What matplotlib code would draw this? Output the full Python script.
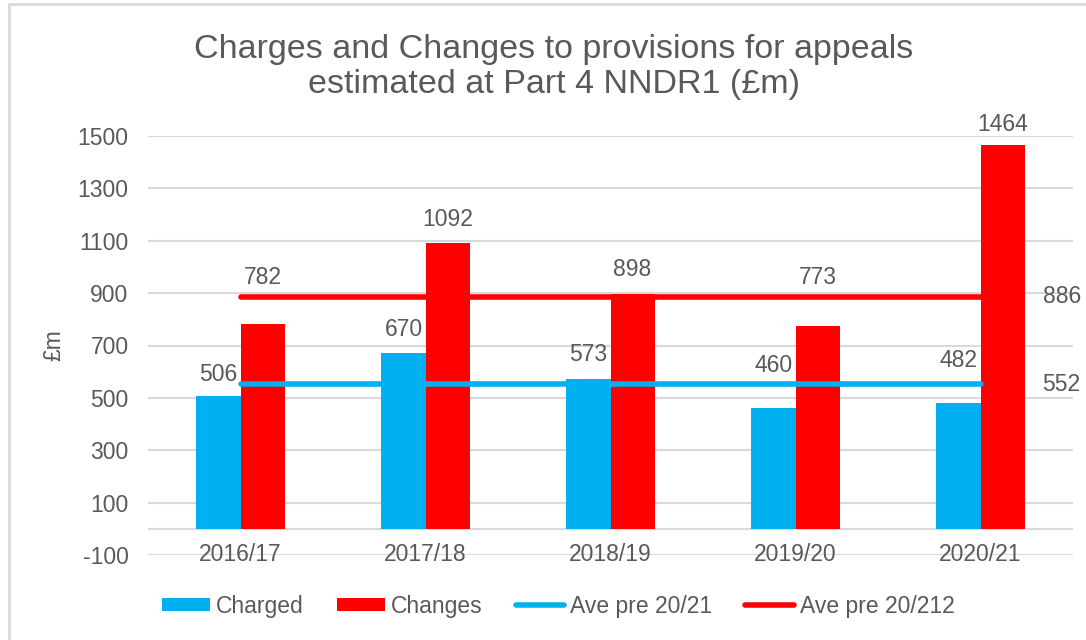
import matplotlib
matplotlib.use("Agg")
import matplotlib.pyplot as plt
from matplotlib.patches import Patch, Rectangle
from matplotlib.lines import Line2D

plt.rcParams['font.family'] = ['Liberation Sans', 'DejaVu Sans']

# ---- data ----
years = ["2016/17", "2017/18", "2018/19", "2019/20", "2020/21"]
charged = [506, 670, 573, 460, 482]
changes = [782, 1092, 898, 773, 1464]
ave_charged = 552      # Ave pre 20/21
ave_changes = 886      # Ave pre 20/212
yticks = [-100, 100, 300, 500, 700, 900, 1100, 1300, 1500]

# ---- style ----
BLUE = "#00B0F0"
RED = "#FF0000"
TXT = "#595959"
GRID = "#D9D9D9"
FS = 16.5
# label lift above bar tops (pixels), as placed in the original
lift_charged = [22, 24, 24, 43, 42]
lift_changes = [47, 23, 24, 49, 21]

W, H = 1086, 640
fig = plt.figure(figsize=(W / 100, H / 100), dpi=100)
px = 72 / 100  # points per pixel

ax = fig.add_axes([148 / W, 1 - 555 / H, (1073 - 148) / W, (555 - 136) / H])

x = list(range(len(years)))
bw = 0.238
ax.bar([i - bw / 2 for i in x], charged, width=bw, color=BLUE, zorder=2)
ax.bar([i + bw / 2 for i in x], changes, width=bw, color=RED, zorder=2)

ax.plot([x[0], x[-1]], [ave_charged, ave_charged], color=BLUE, lw=4, solid_capstyle='round', zorder=3)
ax.plot([x[0], x[-1]], [ave_changes, ave_changes], color=RED, lw=4, solid_capstyle='round', zorder=3)

ax.set_xlim(-0.5, len(years) - 0.5)
ax.set_ylim(-100, 1500)
ax.set_yticks(yticks)
ax.set_yticklabels([str(v) for v in yticks])
for v in yticks:
    ax.axhline(v, color=GRID, lw=1.5, zorder=0)
ax.axhline(0, color=GRID, lw=1.5, zorder=1)
ax.tick_params(axis='y', length=0, pad=14, labelsize=FS, labelcolor=TXT)
ax.set_xticks([])
for s in ax.spines.values():
    s.set_visible(False)

# category labels below the zero line
for i, lab in enumerate(years):
    ax.annotate(lab, xy=(i, 0), xytext=(0, -26 * px), textcoords='offset points',
                ha='center', va='center', fontsize=FS, color=TXT)

# data labels
for i in x:
    ax.annotate(str(charged[i]), xy=(i - bw / 2, charged[i]), xytext=(0, lift_charged[i] * px),
                textcoords='offset points', ha='center', va='center', fontsize=FS, color=TXT, zorder=5)
    ax.annotate(str(changes[i]), xy=(i + bw / 2, changes[i]), xytext=(0, lift_changes[i] * px),
                textcoords='offset points', ha='center', va='center', fontsize=FS, color=TXT, zorder=5)

ax.annotate(str(ave_changes), xy=(x[-1], ave_changes), xytext=(62 * px, 0), textcoords='offset points',
            ha='left', va='center', fontsize=FS, color=TXT, annotation_clip=False)
ax.annotate(str(ave_charged), xy=(x[-1], ave_charged), xytext=(62 * px, 0), textcoords='offset points',
            ha='left', va='center', fontsize=FS, color=TXT, annotation_clip=False)

ax.set_ylabel("£m", fontsize=FS, color=TXT, labelpad=8.5)

fig.text(554 / W, 1 - 67 / H, "Charges and Changes to provisions for appeals\nestimated at Part 4 NNDR1 (£m)",
         ha='center', va='center', fontsize=24.5, color=TXT, linespacing=1.2)

handles = [Patch(facecolor=BLUE), Patch(facecolor=RED),
           Line2D([0], [0], color=BLUE, lw=4, solid_capstyle='round'),
           Line2D([0], [0], color=RED, lw=4, solid_capstyle='round')]
labels = ["Charged", "Changes", "Ave pre 20/21", "Ave pre 20/212"]
leg = fig.legend(handles, labels, loc='center left', bbox_to_anchor=(162 / W, 1 - 606 / H), ncol=4,
                 frameon=False, fontsize=FS, handlelength=2.1, handleheight=0.48, handletextpad=0.26,
                 columnspacing=1.45, borderpad=0, borderaxespad=0)
for t in leg.get_texts():
    t.set_color(TXT)

# chart-area border
fig.patches.append(Rectangle((9 / W, -0.1), 1.2, 1.1 - 4 / H, transform=fig.transFigure,
                             fill=False, edgecolor=GRID, lw=2))

fig.savefig("out.png", dpi=100)
